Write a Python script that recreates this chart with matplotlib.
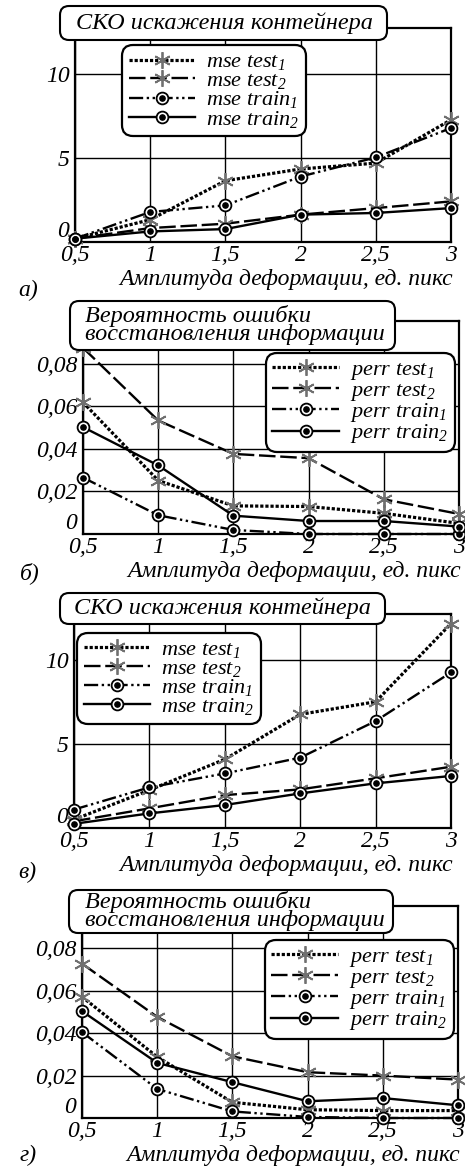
import matplotlib
matplotlib.use("Agg")
import matplotlib.pyplot as plt
from matplotlib.patches import FancyBboxPatch
from matplotlib.legend_handler import HandlerTuple

plt.rcParams['font.family'] = ['Liberation Serif', 'DejaVu Serif']
plt.rcParams['font.style'] = 'italic'
plt.rcParams['mathtext.fontset'] = 'custom'
plt.rcParams['mathtext.it'] = 'Liberation Serif:italic'
plt.rcParams['mathtext.rm'] = 'Liberation Serif:italic'
plt.rcParams['mathtext.default'] = 'it'

# ===============================
# Data
# ===============================
x = [0.5, 1, 1.5, 2, 2.5, 3]
xtick_labels = ["0,5", "1", "1,5", "2", "2,5", "3"]
xlabel = "Амплитуда деформации, ед. пикс"

# a) mse
a_test1 = [0.2, 1.33, 3.65, 4.35, 4.7, 7.28]
a_test2 = [0.2, 0.83, 1.09, 1.63, 2.02, 2.42]
a_train1 = [0.2, 1.79, 2.18, 3.9, 5.04, 6.79]
a_train2 = [0.2, 0.63, 0.77, 1.63, 1.73, 2.02]

# b) perr
b_test1 = [0.0618, 0.0251, 0.0132, 0.0129, 0.0097, 0.005]
b_test2 = [0.0874, 0.0533, 0.0376, 0.0356, 0.0163, 0.0094]
b_train1 = [0.0265, 0.0088, 0.0019, 0.0, 0.0, 0.0]
b_train2 = [0.0502, 0.0322, 0.0086, 0.0061, 0.0061, 0.0035]

# c) mse
c_test1 = [0.5, 2.26, 4.09, 6.77, 7.52, 12.18]
c_test2 = [0.4, 1.17, 1.96, 2.3, 2.96, 3.65]
c_train1 = [1.1, 2.42, 3.25, 4.19, 6.37, 9.27]
c_train2 = [0.25, 0.87, 1.37, 2.06, 2.66, 3.1]

# d) perr
d_test1 = [0.0572, 0.0288, 0.0074, 0.0039, 0.0035, 0.0035]
d_test2 = [0.0728, 0.0477, 0.0291, 0.0216, 0.02, 0.0181]
d_train1 = [0.0405, 0.0137, 0.0031, 0.0005, 0.0, 0.0]
d_train2 = [0.0504, 0.026, 0.0169, 0.0079, 0.0094, 0.006]

mse_yticks = [0, 5, 10]
mse_ylabels = ["0", "5", "10"]
perr_yticks = [0, 0.02, 0.04, 0.06, 0.08]
perr_ylabels = ["0", "0,02", "0,04", "0,06", "0,08"]

mse_title = "СКО искажения контейнера"
perr_title = "Вероятность ошибки\nвосстановления информации"
mse_names = ["mse test$_1$", "mse test$_2$", "mse train$_1$", "mse train$_2$"]
perr_names = ["perr test$_1$", "perr test$_2$", "perr train$_1$", "perr train$_2$"]

# ===============================
# Figure / layout (pixel based)
# ===============================
W, H = 465, 1169
fig = plt.figure(figsize=(W / 100, H / 100), dpi=100)

STAR = (6, 2, 0)
GRAY = "#707070"
LINESTYLES = [(0, (1, 0.6)), (0, (7, 2)), (0, (6, 1.5, 1, 1.5, 1, 1.5)), "-"]
CIRCLES = [False, False, True, True]


def add_ax(left, right, top, bottom):
    return fig.add_axes([left / W, 1 - bottom / H, (right - left) / W, (bottom - top) / H])


def title_box(x0, x1, y0, y1):
    # box given in pixels, drawn in inches so the corners stay round
    p = FancyBboxPatch((x0 / 100, (H - y1) / 100), (x1 - x0) / 100, (y1 - y0) / 100,
                       boxstyle="round,pad=0,rounding_size=0.09",
                       transform=fig.dpi_scale_trans, facecolor="white",
                       edgecolor="black", linewidth=1.5, zorder=5)
    fig.patches.append(p)


def draw_series(ax, y, ls, circle):
    if circle:
        ln, = ax.plot(x, y, color="black", lw=1.7, ls=ls, marker="o", ms=8.5,
                      mfc="white", mec="black", mew=1.3, clip_on=False, zorder=3)
        dot, = ax.plot(x, y, ls="none", marker="o", ms=3.8, color="black",
                       clip_on=False, zorder=4)
        return (ln, dot)
    lw = 2.3 if ls == LINESTYLES[0] else 1.7
    ln, = ax.plot(x, y, color="black", lw=lw, ls=ls, marker=STAR, ms=12,
                  mec=GRAY, mew=1.3, clip_on=False, zorder=3)
    return (ln,)


def panel(ax, data, names, yticks, ylabels, ylim, leg_loc, leg_anchor):
    handles = []
    for y, ls, c in zip(data, LINESTYLES, CIRCLES):
        handles.append(draw_series(ax, y, ls, c))
    ax.set_xlim(0.5, 3)
    ax.set_ylim(*ylim)
    ax.set_xticks(x)
    ax.set_xticklabels(xtick_labels)
    ax.set_yticks(yticks)
    ax.set_yticklabels(ylabels)
    ax.tick_params(length=0, labelsize=17)
    ax.tick_params(axis="x", pad=2)
    ax.tick_params(axis="y", pad=4)
    # the "0" label sits just above the x axis
    ax.get_yticklabels()[0].set_va("bottom")
    ax.grid(True, color="black", lw=1.0)
    ax.set_axisbelow(True)
    for s in ax.spines.values():
        s.set_linewidth(1.6)
    ax.set_xlabel(xlabel, fontsize=17, ha="right")
    ax.xaxis.set_label_coords(1.005, -0.125)
    leg = ax.legend([tuple(h) for h in handles], names, loc=leg_loc,
                    bbox_to_anchor=leg_anchor, fontsize=16,
                    handler_map={tuple: HandlerTuple(ndivide=1)},
                    handlelength=3.0, handletextpad=0.5, labelspacing=-0.08,
                    borderpad=0.3, borderaxespad=0, framealpha=1,
                    fancybox=True, edgecolor="black")
    leg.get_frame().set_linewidth(1.6)
    leg.get_frame().set_boxstyle("round,pad=0,rounding_size=0.5")
    leg.set_zorder(10)


# a)
ax_a = add_ax(75, 451, 28, 242)
panel(ax_a, [a_test1, a_test2, a_train1, a_train2], mse_names,
      mse_yticks, mse_ylabels, (0, 12.75), "upper left", (0.125, 0.92))
title_box(60, 387, 6, 40)
fig.text(224 / W, 1 - 23 / H, mse_title, fontsize=17.5, ha="center", va="center", zorder=6)
fig.text(18 / W, 1 - 290 / H, "а)", fontsize=17, ha="left", va="center")

# b)
ax_b = add_ax(83, 459, 321, 534)
panel(ax_b, [b_test1, b_test2, b_train1, b_train2], perr_names,
      perr_yticks, perr_ylabels, (0, 0.1), "upper right", (0.989, 0.85))
title_box(70, 395, 301, 350)
fig.text(85 / W, 1 - 325 / H, perr_title, fontsize=17.5, ha="left", va="center",
         linespacing=0.8, zorder=6)
fig.text(20 / W, 1 - 573 / H, "б)", fontsize=17, ha="left", va="center")

# c)
ax_c = add_ax(74, 451, 614, 828)
panel(ax_c, [c_test1, c_test2, c_train1, c_train2], mse_names,
      mse_yticks, mse_ylabels, (0, 12.75), "upper left", (0.008, 0.913))
title_box(60, 385, 593, 624)
fig.text(222 / W, 1 - 608 / H, mse_title, fontsize=17.5, ha="center", va="center", zorder=6)
fig.text(18 / W, 1 - 872 / H, "в)", fontsize=17, ha="left", va="center")

# d)
ax_d = add_ax(82, 458, 906, 1118)
panel(ax_d, [d_test1, d_test2, d_train1, d_train2], perr_names,
      perr_yticks, perr_ylabels, (0, 0.1), "upper right", (0.989, 0.84))
title_box(69, 393, 890, 933)
fig.text(85 / W, 1 - 911 / H, perr_title, fontsize=17.5, ha="left", va="center",
         linespacing=0.8, zorder=6)
fig.text(20 / W, 1 - 1155 / H, "г)", fontsize=17, ha="left", va="center")

fig.savefig("out.png", dpi=100)
